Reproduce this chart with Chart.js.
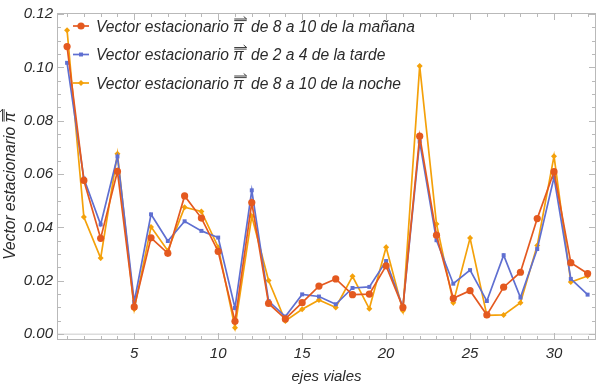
<!DOCTYPE html>
<html>
<head>
<meta charset="utf-8">
<script src="https://cdn.jsdelivr.net/npm/chart.js@4/dist/chart.umd.min.js"></script>
<style>
  html, body { margin: 0; padding: 0; background: #fff; }
  #wrap { width: 600px; height: 387px; }
</style>
</head>
<body>
<div id="wrap"><canvas id="grafico" width="600" height="387"></canvas></div>
<script>
// ===== Datos =====
const ejes = [1, 2, 3, 4, 5, 6, 7, 8, 9, 10, 11, 12, 13, 14, 15, 16,
  17, 18, 19, 20, 21, 22, 23, 24, 25, 26, 27, 28, 29, 30, 31, 32];

const manana = [0.1078, 0.0576, 0.0359, 0.0610, 0.0102, 0.0361, 0.0303, 0.0518,
  0.0435, 0.0310, 0.0048, 0.0493, 0.0115, 0.0057, 0.0118, 0.0180,
  0.0207, 0.0148, 0.0150, 0.0256, 0.0100, 0.0742, 0.0371, 0.0134,
  0.0163, 0.0072, 0.0176, 0.0232, 0.0433, 0.0609, 0.0268, 0.0227];

const tarde = [0.1017, 0.0583, 0.0411, 0.0666, 0.0121, 0.0449, 0.0349, 0.0423,
  0.0387, 0.0362, 0.0098, 0.0539, 0.0124, 0.0066, 0.0149, 0.0141,
  0.0112, 0.0173, 0.0177, 0.0274, 0.0101, 0.0722, 0.0352, 0.0189,
  0.0240, 0.0124, 0.0296, 0.0137, 0.0319, 0.0588, 0.0207, 0.0148];

const noche = [0.1139, 0.0439, 0.0285, 0.0676, 0.0094, 0.0402, 0.0313, 0.0476,
  0.0460, 0.0326, 0.0024, 0.0442, 0.0201, 0.0049, 0.0093, 0.0128,
  0.0100, 0.0217, 0.0095, 0.0326, 0.0088, 0.1005, 0.0413, 0.0118,
  0.0360, 0.0070, 0.0072, 0.0118, 0.0332, 0.0667, 0.0195, 0.0218];

const xTicks = [5, 10, 15, 20, 25, 30];
const yTicks = [0.00, 0.02, 0.04, 0.06, 0.08, 0.10, 0.12];

// texto antes y después del símbolo π con flecha
const etiquetas = [
  ['Vector estacionario ', ' de 8 a 10 de la mañana'],
  ['Vector estacionario ', ' de 2 a 4 de la tarde'],
  ['Vector estacionario ', ' de 8 a 10 de la noche'],
];
const tituloY = ['Vector estacionario ', ''];

// ===== Estilos =====
const ROJO = '#e4591f';
const AZUL = '#5f6fd1';
const AMARILLO = '#f4a10a';
const TEXTO = '#2b2b2b';
const MARCO = '#b9b9b9';
const FUENTE = 'Liberation Sans, Arial, sans-serif';
const FONT_CSS = 'italic 15.6px ' + FUENTE;

function serie(partes, valores, color, estilo, radio) {
  return {
    label: partes.join('π'),
    data: ejes.map((x, i) => ({ x, y: valores[i] })),
    borderColor: color,
    backgroundColor: color,
    borderWidth: 1.7,
    pointStyle: estilo,
    pointRadius: radio,
    pointBorderWidth: 0,
    tension: 0,
  };
}

// Dibuja "antes π⃗ después" con baseline en (x, y); flecha dibujada a mano
function textoConPi(ctx, partes, x, y) {
  ctx.fillText(partes[0], x, y);
  let cx = x + ctx.measureText(partes[0]).width;
  const wPi = ctx.measureText('π').width;
  ctx.fillText('π', cx, y);
  // flecha sobre π
  const ay = y - 12.5;
  ctx.beginPath();
  ctx.moveTo(cx + 1, ay);
  ctx.lineTo(cx + wPi + 3, ay);
  ctx.moveTo(cx + wPi + 3, ay);
  ctx.lineTo(cx + wPi, ay - 2.5);
  ctx.moveTo(cx + 1, ay + 1.6);
  ctx.lineTo(cx + wPi + 3, ay + 1.6);
  ctx.stroke();
  cx += wPi + 3;
  ctx.fillText(partes[1], cx, y);
  return cx + ctx.measureText(partes[1]).width - x;
}

function anchoConPi(ctx, partes) {
  return ctx.measureText(partes[0]).width + ctx.measureText('π').width + 3 +
    ctx.measureText(partes[1]).width;
}

// Marco con marcas hacia dentro (estilo Mathematica), leyenda y título Y
const marcoPlugin = {
  id: 'marco',
  beforeDatasetsDraw(chart) {
    const { ctx, chartArea: a, scales: { x, y } } = chart;
    ctx.save();
    // línea del eje en y = 0
    ctx.strokeStyle = '#dcdcdc';
    ctx.lineWidth = 1.5;
    const y0 = y.getPixelForValue(0);
    ctx.beginPath();
    ctx.moveTo(a.left, y0);
    ctx.lineTo(a.right, y0);
    ctx.stroke();

    ctx.strokeStyle = MARCO;
    ctx.lineWidth = 1;
    ctx.strokeRect(a.left + 0.5, a.top + 0.5, a.right - a.left - 1, a.bottom - a.top - 1);

    ctx.beginPath();
    for (let v = 1; v <= 32; v++) {
      const px = Math.round(x.getPixelForValue(v)) + 0.5;
      const len = v % 5 === 0 ? 7 : 4;
      ctx.moveTo(px, a.bottom); ctx.lineTo(px, a.bottom - len);
      ctx.moveTo(px, a.top); ctx.lineTo(px, a.top + len);
    }
    for (let k = 0; k <= 24; k++) {
      const v = k * 0.005;
      const py = Math.round(y.getPixelForValue(v)) + 0.5;
      const len = k % 4 === 0 ? 7 : 4;
      ctx.moveTo(a.left, py); ctx.lineTo(a.left + len, py);
      ctx.moveTo(a.right, py); ctx.lineTo(a.right - len, py);
    }
    ctx.stroke();

    // título del eje Y (rotado)
    ctx.font = FONT_CSS;
    ctx.fillStyle = TEXTO;
    ctx.strokeStyle = TEXTO;
    ctx.lineWidth = 0.9;
    ctx.textBaseline = 'alphabetic';
    const w = anchoConPi(ctx, tituloY);
    ctx.translate(15, (a.top + a.bottom) / 2 + 8);
    ctx.rotate(-Math.PI / 2);
    textoConPi(ctx, tituloY, -w / 2, 0);
    ctx.restore();
  },
  afterDatasetsDraw(chart) {
    const { ctx } = chart;
    ctx.save();
    ctx.font = FONT_CSS;
    ctx.textBaseline = 'alphabetic';
    chart.data.datasets.forEach((ds, i) => {
      const yy = 26 + i * 28.5;
      ctx.strokeStyle = ds.borderColor;
      ctx.lineWidth = 1.7;
      ctx.beginPath();
      ctx.moveTo(73, yy);
      ctx.lineTo(89, yy);
      ctx.stroke();
      ctx.fillStyle = ds.backgroundColor;
      Chart.helpers.drawPoint(ctx, { pointStyle: ds.pointStyle, radius: ds.pointRadius, rotation: 0, borderWidth: 0 }, 81, yy);
      ctx.fillStyle = TEXTO;
      ctx.strokeStyle = TEXTO;
      ctx.lineWidth = 0.9;
      textoConPi(ctx, etiquetas[i], 96, yy + 5.5);
    });
    ctx.restore();
  },
};

new Chart(document.getElementById('grafico'), {
  type: 'line',
  data: {
    datasets: [
      serie(etiquetas[0], manana, ROJO, 'circle', 3.6),
      serie(etiquetas[1], tarde, AZUL, 'rect', 2.8),
      serie(etiquetas[2], noche, AMARILLO, 'rectRot', 3),
    ],
  },
  options: {
    responsive: false,
    animation: false,
    layout: { padding: { top: 5, right: 2, left: 0, bottom: 0 } },
    plugins: {
      legend: { display: false },
      tooltip: { enabled: false },
    },
    scales: {
      x: {
        type: 'linear',
        min: 0.4,
        max: 32.5,
        grid: { display: false, drawTicks: false },
        border: { display: false },
        afterBuildTicks: (s) => { s.ticks = xTicks.map((v) => ({ value: v })); },
        afterFit: (s) => { s.height = 47; },
        ticks: {
          maxRotation: 0,
          padding: 5,
          color: TEXTO,
          font: { family: FUENTE, size: 15, style: 'italic' },
          callback: (v) => String(v),
        },
        title: {
          display: true,
          text: 'ejes viales',
          color: TEXTO,
          padding: { top: 0, bottom: 1 },
          font: { family: FUENTE, size: 15, style: 'italic' },
        },
      },
      y: {
        min: -0.0022,
        max: 0.12037,
        grid: { display: false, drawTicks: false },
        border: { display: false },
        afterBuildTicks: (s) => { s.ticks = yTicks.map((v) => ({ value: v })); },
        afterFit: (s) => { s.width = 57; },
        ticks: {
          padding: 4,
          color: TEXTO,
          font: { family: FUENTE, size: 15, style: 'italic' },
          callback: (v) => Number(v).toFixed(2),
        },
      },
    },
  },
  plugins: [marcoPlugin],
});
</script>
</body>
</html>
